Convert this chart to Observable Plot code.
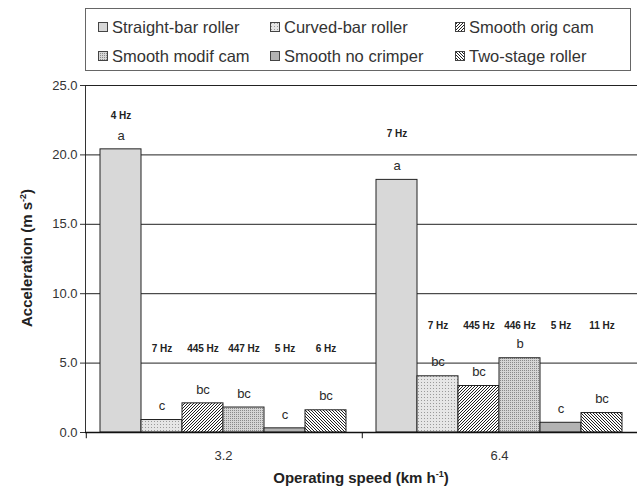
<!DOCTYPE html>
<html>
<head>
<meta charset="utf-8">
<script src="https://cdn.jsdelivr.net/npm/d3@7"></script>
<script src="https://cdn.jsdelivr.net/npm/@observablehq/plot@0.6"></script>
<style>
  body { margin: 0; background: #fff; }
  #wrap { position: relative; width: 637px; height: 493px; font-family: "Liberation Sans", Arial, sans-serif; color: #222; }
  #legend { position: absolute; left: 85px; top: 8px; width: 546px; height: 63px; border: 1px solid #666; box-sizing: border-box;
    display: grid; grid-template-columns: 172px 185px 170px; grid-template-rows: 30px 29px; padding: 3px 0 0 12px; font-size: 16.5px; color: #333; }
  #legend .item { display: flex; align-items: center; white-space: nowrap; }
  #legend svg { margin-right: 3px; }
  .title { position: absolute; font-weight: bold; font-size: 15px; white-space: nowrap; color: #222; }
  .title sup { font-size: 9px; }
</style>
</head>
<body>
<div id="wrap">
  <svg width="0" height="0" style="position:absolute">
    <defs>
      <pattern id="pCurved" width="3" height="3" patternUnits="userSpaceOnUse">
        <rect width="3" height="3" fill="#e6e6e6"/><rect x="1" y="1" width="1" height="1" fill="#9a9a9a"/>
      </pattern>
      <pattern id="pOrig" width="3" height="3" patternUnits="userSpaceOnUse">
        <rect width="3" height="3" fill="#fff"/>
        <path d="M0,3 l3,-3 M-1,1 l2,-2 M2,4 l2,-2" stroke="#222" stroke-width="1"/>
      </pattern>
      <pattern id="pModif" width="2" height="2" patternUnits="userSpaceOnUse">
        <rect width="2" height="2" fill="#d6d6d6"/>
        <rect x="0" y="0" width="1" height="1" fill="#8a8a8a"/>
      </pattern>
      <pattern id="pTwo" width="3" height="3" patternUnits="userSpaceOnUse">
        <rect width="3" height="3" fill="#fff"/>
        <path d="M0,0 l3,3 M-1,2 l2,2 M2,-1 l2,2" stroke="#222" stroke-width="1"/>
      </pattern>
    </defs>
  </svg>
  <div id="legend"></div>
  <div class="title" id="ytitle" style="left:26px;top:258px;transform:translate(-50%,-50%) rotate(-90deg);">Acceleration (m s<sup>-2</sup>)</div>
  <div class="title" id="xtitle" style="left:361px;top:477px;transform:translate(-50%,-50%);">Operating speed (km h<sup>-1</sup>)</div>
</div>
<script>
const speeds = ["3.2", "6.4"];
const rollers = ["Straight-bar roller", "Curved-bar roller", "Smooth orig cam", "Smooth modif cam", "Smooth no crimper", "Two-stage roller"];
const accel32 = [20.4, 0.9, 2.1, 1.8, 0.3, 1.6];
const accel64 = [18.2, 4.05, 3.35, 5.35, 0.7, 1.4];
const letters32 = ["a", "c", "bc", "bc", "c", "bc"];
const letters64 = ["a", "bc", "bc", "b", "c", "bc"];
const hz32 = ["4 Hz", "7 Hz", "445 Hz", "447 Hz", "5 Hz", "6 Hz"];
const hz64 = ["7 Hz", "7 Hz", "445 Hz", "446 Hz", "5 Hz", "11 Hz"];
// level (acceleration units) at which the frequency annotations are written
const hzLevelStraight = [22.8, 21.5];
const hzLevelOthers = [6.05, 7.7];
const fills = ["#d8d8d8", "url(#pCurved)", "url(#pOrig)", "url(#pModif)", "#b3b3b3", "url(#pTwo)"];

const values = [accel32, accel64];
const letters = [letters32, letters64];
const hz = [hz32, hz64];
const data = [];
speeds.forEach((s, g) => rollers.forEach((r, i) => data.push({
  speed: s, roller: r, value: values[g][i], letter: letters[g][i], hz: hz[g][i],
  hzY: i === 0 ? hzLevelStraight[g] : hzLevelOthers[g]
})));

const W = 637, ML = 85, MR = 0, padOuter = 0.34;
const facetW = (W - ML - MR) / speeds.length;
const step = facetW / (rollers.length + 2 * padOuter);

const chart = Plot.plot({
  width: W, height: 493, marginLeft: ML, marginRight: MR, marginTop: 85, marginBottom: 61,
  style: { fontFamily: "'Liberation Sans', Arial, sans-serif", fontSize: "13px", color: "#333", background: "transparent" },
  fx: { domain: speeds, padding: 0, axis: "bottom", label: null, tickSize: 0, tickPadding: 18 },
  x: { domain: rollers, axis: null, paddingInner: 0, paddingOuter: padOuter },
  y: { domain: [0, 25], ticks: [0, 5, 10, 15, 20, 25], tickFormat: d => d.toFixed(1), label: null, line: true, tickSize: 5, tickPadding: 3 },
  color: { type: "ordinal", domain: rollers, range: fills },
  marks: [
    Plot.ruleY([5, 10, 15, 20, 25], { stroke: "#222", strokeWidth: 1 }),
    Plot.barY(data, { fx: "speed", x: "roller", y: "value", fill: "roller", stroke: "#222", strokeWidth: 1 }),
    Plot.ruleY([0], { stroke: "#111", strokeWidth: 1.5 }),
    Plot.ruleX(speeds.map(s => ({ speed: s, roller: rollers[0] })), { fx: "speed", x: "roller", y1: 0, y2: -0.45, dx: -step * (0.5 + padOuter), stroke: "#111" }),
    Plot.text(data, { fx: "speed", x: "roller", y: "value", text: "letter", dy: -14, fontSize: 13, fill: "#2a2a2a" }),
    Plot.text(data, { fx: "speed", x: "roller", y: "hzY", text: "hz", fontSize: 10, fontWeight: "bold", fill: "#222" })
  ]
});
document.getElementById("wrap").insertBefore(chart, document.getElementById("legend"));

const legend = document.getElementById("legend");
rollers.forEach((r, i) => {
  const div = document.createElement("div");
  div.className = "item";
  div.innerHTML = `<svg width="11" height="11"><rect x="0.5" y="0.5" width="9" height="9" fill="${fills[i]}" stroke="#444"/></svg>${r}`;
  legend.appendChild(div);
});
</script>
</body>
</html>
